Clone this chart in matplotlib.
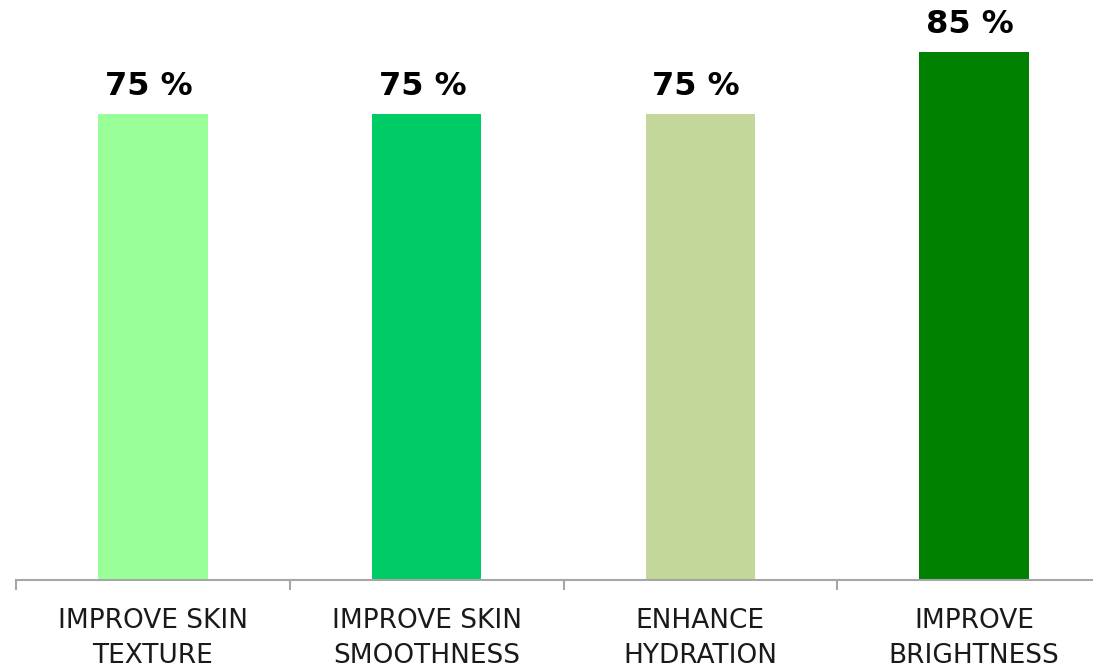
import matplotlib.pyplot as plt
import numpy as np

categories = ['IMPROVE SKIN\nTEXTURE', 'IMPROVE SKIN\nSMOOTHNESS', 'ENHANCE\nHYDRATION', 'IMPROVE\nBRIGHTNESS']
values = [75, 75, 75, 85]
barColors = ['#99FF99', '#00CC66', '#C4D79B', '#008000']
axisColor = '#A6A6A6'

fig = plt.figure(figsize=(10.93, 6.67), dpi=100, facecolor='white')
# axis runs past the right edge of the canvas
ax = fig.add_axes([16 / 1093, 87 / 667, 1095 / 1093, 580 / 667])

xPos = np.arange(len(values))
ax.bar(xPos, values, width=0.4, color=barColors, zorder=2)

for x, v in zip(xPos, values):
    ax.annotate('{} %'.format(v), xy=(x, v), xytext=(-3, 9), textcoords='offset points',
                ha='center', va='bottom', fontsize=23, fontweight='heavy',
                family='DejaVu Sans', color='black')

ax.set_xlim(-0.5, len(values) - 0.5)
ax.set_ylim(0, 93.4)

ax.set_xticks(xPos)
ax.set_xticklabels(categories, fontsize=19, color='#1a1a1a', linespacing=1.45)
ax.set_xticks(np.arange(len(values) + 1) - 0.5, minor=True)
ax.tick_params(axis='x', which='major', length=0, pad=20)
ax.tick_params(axis='x', which='minor', length=7.5, width=1.5, color=axisColor)
ax.set_yticks([])

for side in ['top', 'right', 'left']:
    ax.spines[side].set_visible(False)
ax.spines['bottom'].set_color(axisColor)
ax.spines['bottom'].set_linewidth(1.5)

plt.savefig('out.png', dpi=100, facecolor='white')
